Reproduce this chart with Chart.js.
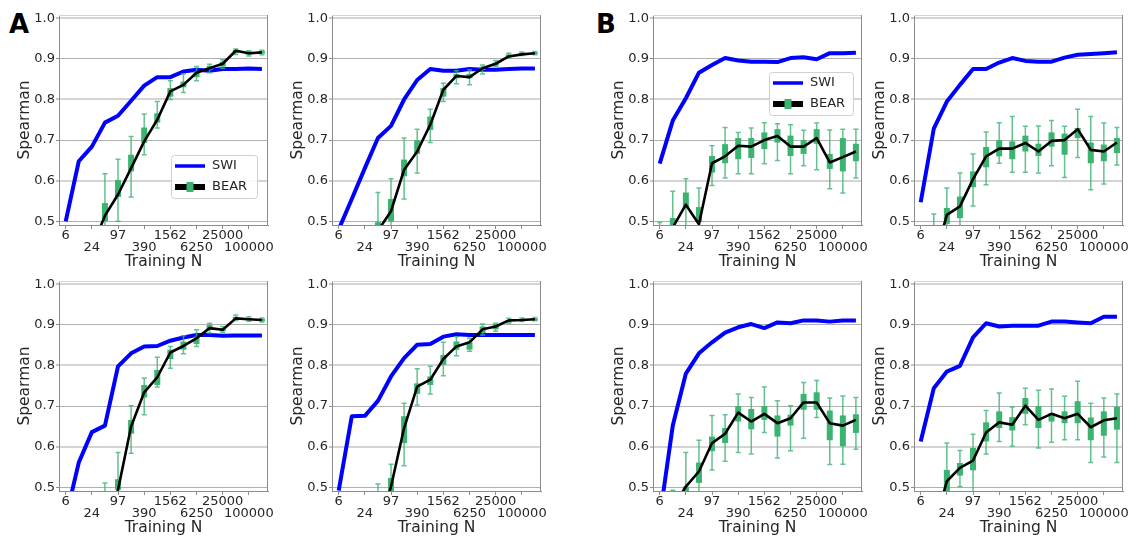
<!DOCTYPE html>
<html>
<head>
<meta charset="utf-8">
<script src="https://cdn.jsdelivr.net/npm/chart.js@4.4.1/dist/chart.umd.min.js"></script>
<style>
  body { margin: 0; background: #fff; }
  #fig { position: relative; width: 1130px; height: 537px; overflow: hidden; background: #fff; }
  #fig canvas { position: absolute; }
  .tag { position: absolute; font: bold 26px/26px "DejaVu Sans", sans-serif; color: #000; }
</style>
</head>
<body>
<div id="fig">
  <div class="tag" style="left:9px;top:11px">A</div>
  <div class="tag" style="left:596px;top:11px">B</div>
</div>
<script>
// training set sizes (x positions, log scale) and the labelled ones
const N_TRAIN = [6.1035, 12.207, 24.414, 48.828, 97.656, 195.31, 390.63, 781.25,
                 1562.5, 3125, 6250, 12500, 25000, 50000, 100000, 200000];
const TICK_N = [6.1035, 24.414, 97.656, 390.63, 1562.5, 6250, 25000, 100000];
const TICK_LABELS = ['6', '24', '97', '390', '1562', '6250', '25000', '100000'];
const Y_TICKS = [0.5, 0.6, 0.7, 0.8, 0.9, 1.0];

// --- panel A, top left
const SWI_A1  = [0.500, 0.648, 0.684, 0.743, 0.760, 0.797, 0.834, 0.855, 0.855, 0.869, 0.873, 0.871, 0.875, 0.875, 0.876, 0.875];
const BEAR_A1 = [null, null, 0.435, 0.514, 0.566, 0.631, 0.697, 0.750, 0.820, 0.836, 0.866, 0.877, 0.888, 0.920, 0.914, 0.916];
// [low whisker, q1, q3, high whisker]
const BOX_A1 = [null, null, null,
  [0.47, 0.500, 0.545, 0.617], [0.50, 0.560, 0.602, 0.653], [0.56, 0.623, 0.664, 0.709], [0.664, 0.693, 0.731, 0.764],
  [0.730, 0.743, 0.766, 0.795], [0.800, 0.807, 0.828, 0.846], [0.817, 0.830, 0.844, 0.863], [0.846, 0.855, 0.869, 0.881],
  [0.866, 0.873, 0.883, 0.887], [0.877, 0.881, 0.893, 0.898], [0.911, 0.914, 0.922, 0.924], [0.907, 0.910, 0.918, 0.920],
  [0.910, 0.913, 0.919, 0.921]];

// --- panel A, top right
const SWI_A2  = [0.480, 0.555, 0.631, 0.705, 0.735, 0.800, 0.848, 0.875, 0.871, 0.871, 0.875, 0.873, 0.873, 0.875, 0.876, 0.876];
const BEAR_A2 = [null, null, null, 0.477, 0.525, 0.627, 0.672, 0.738, 0.824, 0.858, 0.855, 0.877, 0.888, 0.906, 0.911, 0.914];
const BOX_A2 = [null, null, null,
  [0.46, 0.480, 0.498, 0.571], [0.485, 0.500, 0.555, 0.605], [0.555, 0.611, 0.652, 0.705], [0.619, 0.666, 0.700, 0.727],
  [0.694, 0.725, 0.758, 0.776], [0.795, 0.807, 0.828, 0.840], [0.839, 0.852, 0.863, 0.871], [0.836, 0.852, 0.863, 0.873],
  [0.863, 0.873, 0.881, 0.885], [0.881, 0.883, 0.891, 0.896], [0.902, 0.906, 0.911, 0.914], [0.908, 0.910, 0.915, 0.917],
  [0.910, 0.912, 0.916, 0.918]];

// --- panel A, bottom left
const SWI_A3  = [0.424, 0.561, 0.636, 0.652, 0.798, 0.830, 0.847, 0.848, 0.861, 0.869, 0.875, 0.875, 0.873, 0.874, 0.874, 0.874];
const BEAR_A3 = [null, null, null, 0.400, 0.494, 0.650, 0.734, 0.771, 0.832, 0.848, 0.867, 0.892, 0.888, 0.916, 0.914, 0.912];
const BOX_A3 = [null, null, null,
  [0.42, 0.44, 0.48, 0.511], [0.47, 0.494, 0.520, 0.586], [0.584, 0.632, 0.666, 0.701], [0.679, 0.721, 0.752, 0.769],
  [0.747, 0.752, 0.789, 0.820], [0.793, 0.816, 0.839, 0.847], [0.829, 0.839, 0.859, 0.873], [0.847, 0.853, 0.871, 0.888],
  [0.880, 0.888, 0.900, 0.904], [0.881, 0.884, 0.892, 0.896], [0.911, 0.912, 0.920, 0.924], [0.909, 0.911, 0.917, 0.920],
  [0.907, 0.909, 0.915, 0.917]];

// --- panel A, bottom right
const SWI_A4  = [0.492, 0.675, 0.676, 0.713, 0.773, 0.818, 0.851, 0.853, 0.871, 0.877, 0.875, 0.875, 0.875, 0.875, 0.875, 0.875];
const BEAR_A4 = [null, null, null, 0.400, 0.502, 0.646, 0.748, 0.765, 0.816, 0.847, 0.857, 0.889, 0.896, 0.911, 0.912, 0.914];
const BOX_A4 = [null, null, null,
  [0.42, 0.44, 0.48, 0.508], [0.46, 0.48, 0.523, 0.557], [0.553, 0.609, 0.675, 0.707], [0.703, 0.730, 0.756, 0.792],
  [0.730, 0.752, 0.773, 0.798], [0.775, 0.802, 0.826, 0.857], [0.824, 0.839, 0.859, 0.871], [0.835, 0.839, 0.857, 0.867],
  [0.875, 0.880, 0.896, 0.902], [0.884, 0.889, 0.902, 0.904], [0.904, 0.906, 0.912, 0.916], [0.908, 0.910, 0.915, 0.917],
  [0.910, 0.911, 0.916, 0.918]];

// --- panel B, top left
const SWI_B1  = [0.642, 0.748, 0.803, 0.866, 0.885, 0.902, 0.896, 0.893, 0.893, 0.892, 0.902, 0.904, 0.899, 0.914, 0.914, 0.915];
const BEAR_B1 = [null, 0.485, 0.541, 0.493, 0.643, 0.660, 0.686, 0.684, 0.700, 0.710, 0.684, 0.684, 0.705, 0.645, 0.658, 0.672];
const BOX_B1 = [
  [0.42, 0.44, 0.48, 0.497], [0.44, 0.46, 0.508, 0.574], [0.47, 0.533, 0.571, 0.605], [0.47, 0.498, 0.535, 0.582],
  [0.588, 0.620, 0.661, 0.686], [0.607, 0.643, 0.690, 0.731], [0.617, 0.653, 0.705, 0.719], [0.617, 0.656, 0.705, 0.730],
  [0.642, 0.678, 0.719, 0.743], [0.650, 0.694, 0.727, 0.740], [0.617, 0.661, 0.711, 0.738], [0.637, 0.666, 0.700, 0.724],
  [0.627, 0.691, 0.727, 0.742], [0.580, 0.629, 0.666, 0.725], [0.570, 0.623, 0.705, 0.727], [0.607, 0.648, 0.691, 0.727]];

// --- panel B, top right
const SWI_B2  = [0.547, 0.728, 0.795, 0.836, 0.875, 0.875, 0.891, 0.902, 0.895, 0.893, 0.893, 0.903, 0.910, 0.912, 0.914, 0.916];
const BEAR_B2 = [null, 0.400, 0.516, 0.537, 0.604, 0.660, 0.679, 0.679, 0.693, 0.672, 0.698, 0.700, 0.727, 0.676, 0.672, 0.694];
const BOX_B2 = [null,
  [0.42, 0.44, 0.48, 0.518], [0.47, 0.494, 0.533, 0.582], [0.48, 0.508, 0.561, 0.619],
  [0.538, 0.584, 0.623, 0.666], [0.590, 0.633, 0.683, 0.720], [0.643, 0.660, 0.700, 0.743], [0.621, 0.653, 0.697, 0.758],
  [0.621, 0.672, 0.711, 0.734], [0.619, 0.661, 0.691, 0.735], [0.637, 0.684, 0.719, 0.748], [0.608, 0.664, 0.716, 0.734],
  [0.657, 0.705, 0.730, 0.776], [0.578, 0.643, 0.694, 0.758], [0.592, 0.648, 0.689, 0.742], [0.639, 0.668, 0.705, 0.731]];

// --- panel B, bottom left
const SWI_B3  = [0.425, 0.652, 0.780, 0.830, 0.857, 0.881, 0.894, 0.902, 0.892, 0.906, 0.904, 0.911, 0.911, 0.908, 0.911, 0.911];
const BEAR_B3 = [null, 0.450, 0.502, 0.539, 0.609, 0.632, 0.684, 0.662, 0.681, 0.658, 0.670, 0.709, 0.709, 0.658, 0.652, 0.666];
const BOX_B3 = [null,
  [0.42, 0.44, 0.47, 0.493], [0.45, 0.47, 0.502, 0.586], [0.48, 0.511, 0.561, 0.616],
  [0.543, 0.589, 0.625, 0.677], [0.564, 0.609, 0.646, 0.679], [0.586, 0.662, 0.700, 0.730], [0.582, 0.643, 0.693, 0.721],
  [0.635, 0.666, 0.700, 0.747], [0.572, 0.625, 0.677, 0.713], [0.590, 0.652, 0.679, 0.701], [0.621, 0.691, 0.730, 0.758],
  [0.672, 0.691, 0.734, 0.763], [0.556, 0.616, 0.689, 0.720], [0.557, 0.601, 0.677, 0.725], [0.594, 0.634, 0.680, 0.721]];

// --- panel B, bottom right
const SWI_B4  = [0.613, 0.744, 0.785, 0.799, 0.869, 0.904, 0.896, 0.898, 0.898, 0.898, 0.908, 0.908, 0.906, 0.904, 0.920, 0.920];
const BEAR_B4 = [null, 0.400, 0.515, 0.548, 0.566, 0.635, 0.660, 0.654, 0.701, 0.666, 0.681, 0.670, 0.681, 0.648, 0.665, 0.670];
const BOX_B4 = [null, null,
  [0.45, 0.47, 0.543, 0.609], [0.502, 0.529, 0.560, 0.591],
  [0.47, 0.542, 0.597, 0.631], [0.582, 0.613, 0.660, 0.689], [0.613, 0.646, 0.687, 0.732], [0.601, 0.640, 0.673, 0.698],
  [0.654, 0.681, 0.720, 0.744], [0.597, 0.646, 0.700, 0.739], [0.611, 0.662, 0.683, 0.742], [0.617, 0.658, 0.687, 0.724],
  [0.617, 0.658, 0.712, 0.761], [0.561, 0.616, 0.672, 0.707], [0.575, 0.627, 0.687, 0.720], [0.561, 0.642, 0.698, 0.730]];

const GREEN = 'rgb(60,179,113)';
const GREEN_SOFT = 'rgba(60,179,113,0.8)';
const FONT = '"DejaVu Sans", sans-serif';

// plot-area positions on the page; legend offsets are relative to the plot area
const PANELS = [
  { left: 59,  top: 15,  swi: SWI_A1, bear: BEAR_A1, box: BOX_A1, legend: { x: 112, y: 140, w: 86 } },
  { left: 332, top: 15,  swi: SWI_A2, bear: BEAR_A2, box: BOX_A2 },
  { left: 653, top: 15,  swi: SWI_B1, bear: BEAR_B1, box: BOX_B1, legend: { x: 116, y: 57, w: 84 } },
  { left: 914, top: 15,  swi: SWI_B2, bear: BEAR_B2, box: BOX_B2 },
  { left: 59,  top: 281, swi: SWI_A3, bear: BEAR_A3, box: BOX_A3 },
  { left: 332, top: 281, swi: SWI_A4, bear: BEAR_A4, box: BOX_A4 },
  { left: 653, top: 281, swi: SWI_B3, bear: BEAR_B3, box: BOX_B3 },
  { left: 914, top: 281, swi: SWI_B4, bear: BEAR_B4, box: BOX_B4 },
];

const PLOT_W = 209, PLOT_H = 210, AX_LEFT = 60, AX_BOTTOM = 55, PAD_TOP = 15, PAD_RIGHT = 10;

function boxPlugin(box) {
  return {
    id: 'boxes',
    beforeDatasetDraw(chart, args) {
      if (args.index !== 0) return;   // right before the BEAR line
      const { ctx, chartArea: a, scales: { x, y } } = chart;
      ctx.save();
      ctx.beginPath();
      ctx.rect(a.left, a.top, a.right - a.left, a.bottom - a.top);
      ctx.clip();
      box.forEach((b, i) => {
        if (!b) return;
        const px = x.getPixelForValue(N_TRAIN[i]);
        const [lo, q1, q3, hi] = b.map(v => y.getPixelForValue(v));
        ctx.strokeStyle = GREEN_SOFT;
        ctx.lineWidth = 1.5;
        ctx.beginPath();
        ctx.moveTo(px, lo); ctx.lineTo(px, hi);
        ctx.moveTo(px - 2.5, lo); ctx.lineTo(px + 2.5, lo);
        ctx.moveTo(px - 2.5, hi); ctx.lineTo(px + 2.5, hi);
        ctx.stroke();
        ctx.fillStyle = GREEN;
        ctx.fillRect(px - 3, q3, 6, q1 - q3);
      });
      ctx.restore();
    }
  };
}

function framePlugin(legend) {
  return {
    id: 'frame',
    afterDraw(chart) {
      const { ctx, chartArea: a } = chart;
      ctx.save();
      ctx.strokeStyle = '#d4d4d4'; ctx.lineWidth = 1;
      ctx.beginPath(); ctx.moveTo(a.left, a.top + 0.5); ctx.lineTo(a.right, a.top + 0.5); ctx.stroke();
      ctx.strokeStyle = '#8c8c8c';
      ctx.beginPath(); ctx.moveTo(a.right - 0.5, a.top); ctx.lineTo(a.right - 0.5, a.bottom); ctx.stroke();
      if (legend) {
        const x0 = a.left + legend.x, y0 = a.top + legend.y, h = 43;
        ctx.fillStyle = 'rgba(255,255,255,0.85)';
        ctx.strokeStyle = '#d0d0d0';
        ctx.beginPath(); ctx.roundRect(x0 + 0.5, y0 + 0.5, legend.w, h, 3); ctx.fill(); ctx.stroke();
        const [bear, swi] = chart.data.datasets;
        ctx.font = '13px ' + FONT;
        ctx.textBaseline = 'middle';
        ctx.fillStyle = '#262626';
        // SWI row
        ctx.strokeStyle = swi.borderColor; ctx.lineWidth = 3.5;
        ctx.beginPath(); ctx.moveTo(x0 + 4, y0 + 11); ctx.lineTo(x0 + 34, y0 + 11); ctx.stroke();
        ctx.fillText(swi.label, x0 + 41, y0 + 11);
        // BEAR row
        ctx.strokeStyle = bear.borderColor; ctx.lineWidth = 6;
        ctx.beginPath(); ctx.moveTo(x0 + 4, y0 + 32); ctx.lineTo(x0 + 34, y0 + 32); ctx.stroke();
        ctx.fillStyle = GREEN;
        ctx.fillRect(x0 + 15.5, y0 + 27, 7, 10);
        ctx.fillStyle = '#262626';
        ctx.fillText(bear.label, x0 + 41, y0 + 32);
      }
      ctx.restore();
    }
  };
}

const fig = document.getElementById('fig');

PANELS.forEach(p => {
  const cv = document.createElement('canvas');
  const w = AX_LEFT + PLOT_W + PAD_RIGHT, h = PAD_TOP + PLOT_H + AX_BOTTOM;
  cv.width = w; cv.height = h;
  cv.style.left = (p.left - AX_LEFT) + 'px';
  cv.style.top = (p.top - PAD_TOP) + 'px';
  fig.appendChild(cv);

  new Chart(cv.getContext('2d'), {
    type: 'line',
    data: {
      labels: N_TRAIN,
      datasets: [
        { label: 'BEAR', data: N_TRAIN.map((n, i) => ({ x: n, y: p.bear[i] })),
          borderColor: '#000', borderWidth: 2.6, pointRadius: 0, tension: 0,
          borderJoinStyle: 'round', spanGaps: false, clip: 0 },
        { label: 'SWI', data: N_TRAIN.map((n, i) => ({ x: n, y: p.swi[i] })),
          borderColor: '#0000ff', borderWidth: 4, pointRadius: 0, tension: 0,
          borderJoinStyle: 'round', clip: 0 },
      ]
    },
    options: {
      responsive: false,
      animation: false,
      devicePixelRatio: 1,
      layout: { padding: { top: PAD_TOP, right: PAD_RIGHT, left: 0, bottom: 0 } },
      plugins: { legend: { display: false }, tooltip: { enabled: false } },
      scales: {
        x: {
          type: 'logarithmic',
          min: 4.28, max: 276000,
          afterBuildTicks: s => { s.ticks = TICK_N.map(v => ({ value: v })); },
          afterFit: s => { s.height = AX_BOTTOM; },
          grid: { drawOnChartArea: false, drawTicks: true, tickLength: 4, tickColor: '#8c8c8c', tickWidth: 1 },
          border: { color: '#8c8c8c', width: 1 },
          ticks: {
            autoSkip: false, maxRotation: 0, minRotation: 0, padding: 1, color: '#262626',
            font: { family: FONT, size: 13, lineHeight: 0.885 },
            callback: (v, i) => (i % 2 ? ['', TICK_LABELS[i]] : TICK_LABELS[i])
          },
          title: { display: true, text: 'Training N', color: '#262626',
                   font: { family: FONT, size: 15.5, lineHeight: 1 }, padding: { top: 0, bottom: 10.5 } }
        },
        y: {
          min: 0.491, max: 1.008,
          afterBuildTicks: s => { s.ticks = Y_TICKS.map(v => ({ value: v })); },
          afterFit: s => { s.width = AX_LEFT; },
          grid: {
            color: c => (c.tick && Math.round(c.tick.value * 10) % 2 === 0 ? '#d4d4d4' : '#b0b0b0'),
            lineWidth: c => (c.tick && Math.round(c.tick.value * 10) % 2 === 0 ? 2 : 1),
            drawTicks: true, tickLength: 3, tickColor: '#8c8c8c', tickWidth: 1
          },
          border: { color: '#8c8c8c', width: 1 },
          ticks: { padding: 1, color: '#262626', font: { family: FONT, size: 13 },
                   callback: v => v.toFixed(1) },
          title: { display: true, text: 'Spearman', color: '#262626',
                   font: { family: FONT, size: 15.5, lineHeight: 1 }, padding: { top: 18, bottom: 0 } }
        }
      }
    },
    plugins: [boxPlugin(p.box), framePlugin(p.legend)]
  });
});
</script>
</body>
</html>
